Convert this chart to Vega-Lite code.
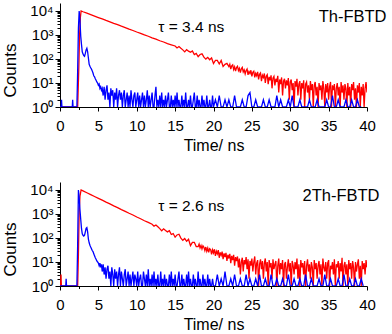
{
"$schema": "https://vega.github.io/schema/vega-lite/v6.json",
"padding": {"left": 0, "top": 3, "right": 1, "bottom": 0},
"spacing": 29,
"config": {
 "view": {"stroke": null},
 "font": "Liberation Sans",
 "axis": {"domainColor": "black", "tickColor": "black", "labelColor": "black", "titleColor": "black", "labelFont": "Liberation Sans", "titleFont": "Liberation Sans", "labelFontSize": 15, "titleFontSize": 16, "titleFontWeight": "normal", "grid": false, "labelOverlap": false, "labelBound": false, "domainWidth": 1, "tickWidth": 1}
},
"datasets": {
 "tr": [{"t":0,"c":1},{"t":0.5,"c":1},{"t":1,"c":1},{"t":1.5,"c":1},{"t":2,"c":1},{"t":2.3,"c":1},{"t":2.45,"c":40},{"t":2.55,"c":900},{"t":2.65,"c":5200},{"t":2.75,"c":10000},{"t":3,"c":9300},{"t":3.5,"c":8130},{"t":4,"c":7050},{"t":4.5,"c":6160},{"t":5,"c":5340},{"t":5.5,"c":4670},{"t":6,"c":4040},{"t":6.5,"c":3540},{"t":7,"c":3060},{"t":7.5,"c":2680},{"t":8,"c":2320},{"t":8.5,"c":2030},{"t":9,"c":1755},{"t":9.5,"c":1540},{"t":10,"c":1330},{"t":10.5,"c":1168},{"t":11,"c":1005},{"t":11.5,"c":886},{"t":12,"c":760},{"t":12.5,"c":672},{"t":13,"c":575},{"t":13.5,"c":510},{"t":14,"c":433},{"t":14.5,"c":388},{"t":15,"c":349},{"t":15.25,"c":287},{"t":15.5,"c":329},{"t":15.75,"c":280},{"t":16,"c":240},{"t":16.25,"c":198},{"t":16.5,"c":245},{"t":16.75,"c":212},{"t":17,"c":190},{"t":17.25,"c":216},{"t":17.5,"c":153},{"t":17.75,"c":170},{"t":18,"c":124},{"t":18.25,"c":154},{"t":18.5,"c":165},{"t":18.75,"c":119},{"t":19,"c":99},{"t":19.25,"c":117},{"t":19.5,"c":93},{"t":19.75,"c":110},{"t":20,"c":65},{"t":20.25,"c":87},{"t":20.5,"c":87},{"t":20.75,"c":62},{"t":21,"c":87},{"t":21.25,"c":49},{"t":21.5,"c":60},{"t":21.75,"c":66},{"t":22,"c":48},{"t":22.125,"c":60},{"t":22.25,"c":38},{"t":22.375,"c":52},{"t":22.5,"c":57},{"t":22.625,"c":36},{"t":22.75,"c":47},{"t":22.875,"c":31},{"t":23,"c":44},{"t":23.125,"c":50},{"t":23.25,"c":33},{"t":23.375,"c":41},{"t":23.5,"c":27},{"t":23.625,"c":39},{"t":23.75,"c":45},{"t":23.875,"c":29},{"t":24,"c":35},{"t":24.125,"c":24},{"t":24.25,"c":33},{"t":24.375,"c":38},{"t":24.5,"c":22},{"t":24.625,"c":30},{"t":24.75,"c":25},{"t":24.875,"c":34},{"t":25,"c":19},{"t":25.125,"c":28},{"t":25.25,"c":31},{"t":25.375,"c":17},{"t":25.5,"c":25},{"t":25.625,"c":20},{"t":25.75,"c":29},{"t":25.875,"c":14},{"t":26,"c":23},{"t":26.125,"c":26},{"t":26.25,"c":12},{"t":26.375,"c":21},{"t":26.5,"c":17},{"t":26.625,"c":25},{"t":26.75,"c":10},{"t":26.875,"c":19},{"t":27,"c":22},{"t":27.125,"c":9},{"t":27.25,"c":18},{"t":27.375,"c":13},{"t":27.5,"c":21},{"t":27.625,"c":6},{"t":27.75,"c":16},{"t":27.875,"c":19},{"t":28,"c":8},{"t":28.125,"c":15},{"t":28.25,"c":11},{"t":28.375,"c":20},{"t":28.5,"c":4},{"t":28.625,"c":14},{"t":28.75,"c":9},{"t":28.875,"c":17},{"t":29,"c":3},{"t":29.125,"c":12},{"t":29.25,"c":15},{"t":29.375,"c":6},{"t":29.5,"c":13},{"t":29.625,"c":8},{"t":29.75,"c":16},{"t":29.875,"c":2},{"t":30,"c":11},{"t":30.125,"c":14},{"t":30.25,"c":5},{"t":30.375,"c":10},{"t":30.5,"c":1},{"t":30.625,"c":12},{"t":30.75,"c":7},{"t":30.875,"c":15},{"t":31,"c":3},{"t":31.125,"c":9},{"t":31.25,"c":12},{"t":31.375,"c":2},{"t":31.5,"c":10},{"t":31.625,"c":6},{"t":31.75,"c":13},{"t":31.875,"c":1},{"t":32,"c":9},{"t":32.125,"c":11},{"t":32.25,"c":4},{"t":32.375,"c":8},{"t":32.5,"c":2},{"t":32.625,"c":12},{"t":32.75,"c":5},{"t":32.875,"c":9},{"t":33,"c":1},{"t":33.125,"c":8},{"t":33.25,"c":11},{"t":33.375,"c":3},{"t":33.5,"c":7},{"t":33.625,"c":1},{"t":33.75,"c":10},{"t":33.875,"c":5},{"t":34,"c":8},{"t":34.125,"c":2},{"t":34.25,"c":12},{"t":34.375,"c":6},{"t":34.5,"c":1},{"t":34.625,"c":9},{"t":34.75,"c":4},{"t":34.875,"c":10},{"t":35,"c":2},{"t":35.125,"c":7},{"t":35.25,"c":11},{"t":35.375,"c":1},{"t":35.5,"c":8},{"t":35.625,"c":5},{"t":35.75,"c":9},{"t":35.875,"c":1},{"t":36,"c":6},{"t":36.125,"c":10},{"t":36.25,"c":3},{"t":36.375,"c":7},{"t":36.5,"c":1},{"t":36.625,"c":11},{"t":36.75,"c":4},{"t":36.875,"c":8},{"t":37,"c":2},{"t":37.125,"c":9},{"t":37.25,"c":6},{"t":37.375,"c":1},{"t":37.5,"c":10},{"t":37.625,"c":3},{"t":37.75,"c":7},{"t":37.875,"c":1},{"t":38,"c":9},{"t":38.125,"c":5},{"t":38.25,"c":11},{"t":38.375,"c":2},{"t":38.5,"c":6},{"t":38.625,"c":1},{"t":38.75,"c":8},{"t":38.875,"c":4},{"t":39,"c":10},{"t":39.125,"c":1},{"t":39.25,"c":7},{"t":39.375,"c":3},{"t":39.5,"c":9},{"t":39.625,"c":1},{"t":39.75,"c":6},{"t":39.875,"c":11},{"t":40,"c":4}],
 "tb": [{"t":0,"c":1},{"t":0.15,"c":1},{"t":0.2,"c":2},{"t":0.25,"c":1},{"t":1,"c":1},{"t":1.6,"c":1},{"t":1.65,"c":2},{"t":1.7,"c":1},{"t":2.2,"c":1},{"t":2.3,"c":30},{"t":2.4,"c":2000},{"t":2.5,"c":10000},{"t":2.6,"c":4000},{"t":2.7,"c":900},{"t":2.8,"c":400},{"t":2.9,"c":200},{"t":3,"c":160},{"t":3.1,"c":140},{"t":3.2,"c":130},{"t":3.3,"c":170},{"t":3.4,"c":240},{"t":3.5,"c":280},{"t":3.6,"c":200},{"t":3.7,"c":110},{"t":3.8,"c":60},{"t":3.9,"c":50},{"t":4,"c":43},{"t":4.1,"c":38},{"t":4.2,"c":32},{"t":4.3,"c":26},{"t":4.4,"c":20},{"t":4.5,"c":18},{"t":4.6,"c":15},{"t":4.7,"c":13},{"t":4.8,"c":11},{"t":4.9,"c":10},{"t":5,"c":8},{"t":5.1,"c":9},{"t":5.2,"c":6},{"t":5.3,"c":7},{"t":5.4,"c":5},{"t":5.5,"c":6},{"t":5.625,"c":3},{"t":5.75,"c":7},{"t":5.875,"c":2},{"t":6,"c":5},{"t":6.125,"c":8},{"t":6.25,"c":2},{"t":6.375,"c":4},{"t":6.5,"c":1},{"t":6.625,"c":6},{"t":6.75,"c":3},{"t":6.875,"c":5},{"t":7,"c":1},{"t":7.125,"c":4},{"t":7.25,"c":2},{"t":7.375,"c":6},{"t":7.5,"c":1},{"t":7.625,"c":3},{"t":7.75,"c":5},{"t":7.875,"c":2},{"t":8,"c":4},{"t":8.125,"c":1},{"t":8.25,"c":3},{"t":8.375,"c":5},{"t":8.5,"c":1},{"t":8.625,"c":2},{"t":8.75,"c":4},{"t":8.875,"c":1},{"t":9,"c":3},{"t":9.125,"c":1},{"t":9.25,"c":5},{"t":9.375,"c":2},{"t":9.5,"c":1},{"t":9.625,"c":3},{"t":9.75,"c":4},{"t":9.875,"c":1},{"t":10,"c":2},{"t":10.125,"c":4},{"t":10.25,"c":1},{"t":10.375,"c":3},{"t":10.5,"c":1},{"t":10.625,"c":2},{"t":10.75,"c":4},{"t":10.875,"c":1},{"t":11,"c":3},{"t":11.125,"c":1},{"t":11.25,"c":2},{"t":11.375,"c":5},{"t":11.5,"c":1},{"t":11.625,"c":3},{"t":11.75,"c":1},{"t":11.875,"c":2},{"t":12,"c":4},{"t":12.125,"c":1},{"t":12.25,"c":1},{"t":12.375,"c":3},{"t":12.5,"c":7},{"t":12.625,"c":1},{"t":12.75,"c":2},{"t":12.875,"c":1},{"t":13,"c":3},{"t":13.125,"c":1},{"t":13.25,"c":4},{"t":13.375,"c":1},{"t":13.5,"c":2},{"t":13.625,"c":1},{"t":13.75,"c":3},{"t":13.875,"c":1},{"t":14,"c":2},{"t":14.125,"c":4},{"t":14.25,"c":1},{"t":14.375,"c":1},{"t":14.5,"c":3},{"t":14.625,"c":1},{"t":14.75,"c":2},{"t":14.875,"c":1},{"t":15,"c":3},{"t":15.125,"c":1},{"t":15.25,"c":4},{"t":15.375,"c":1},{"t":15.5,"c":2},{"t":15.625,"c":1},{"t":15.75,"c":1},{"t":15.875,"c":3},{"t":16,"c":1},{"t":16.125,"c":2},{"t":16.25,"c":1},{"t":16.375,"c":4},{"t":16.5,"c":1},{"t":16.625,"c":1},{"t":16.75,"c":2},{"t":16.875,"c":1},{"t":17,"c":3},{"t":17.125,"c":1},{"t":17.25,"c":1},{"t":17.375,"c":2},{"t":17.5,"c":4},{"t":17.625,"c":1},{"t":17.75,"c":1},{"t":17.875,"c":3},{"t":18,"c":1},{"t":18.125,"c":2},{"t":18.25,"c":1},{"t":18.375,"c":1},{"t":18.5,"c":3},{"t":18.625,"c":1},{"t":18.75,"c":2},{"t":18.875,"c":1},{"t":19,"c":1},{"t":19.125,"c":3},{"t":19.25,"c":1},{"t":19.375,"c":1},{"t":19.5,"c":2},{"t":19.625,"c":1},{"t":19.75,"c":1},{"t":19.875,"c":3},{"t":20,"c":1},{"t":20.25,"c":2},{"t":20.5,"c":1},{"t":20.75,"c":3},{"t":21,"c":1},{"t":21.25,"c":1},{"t":21.5,"c":2},{"t":21.75,"c":1},{"t":22,"c":2},{"t":22.25,"c":1},{"t":22.5,"c":1},{"t":22.75,"c":3},{"t":23,"c":1},{"t":23.25,"c":1},{"t":23.5,"c":1},{"t":23.75,"c":2},{"t":24,"c":1},{"t":24.25,"c":1},{"t":24.5,"c":3},{"t":24.75,"c":4},{"t":25,"c":1},{"t":25.25,"c":1},{"t":25.5,"c":2},{"t":25.75,"c":1},{"t":26,"c":1},{"t":26.25,"c":1},{"t":26.5,"c":2},{"t":26.75,"c":1},{"t":27,"c":1},{"t":27.25,"c":2},{"t":27.5,"c":1},{"t":27.75,"c":1},{"t":28,"c":1},{"t":28.25,"c":3},{"t":28.5,"c":1},{"t":28.75,"c":2},{"t":29,"c":1},{"t":29.25,"c":1},{"t":29.5,"c":1},{"t":29.75,"c":2},{"t":30,"c":1},{"t":30.25,"c":3},{"t":30.5,"c":1},{"t":30.75,"c":1},{"t":31,"c":1},{"t":31.25,"c":2},{"t":31.5,"c":1},{"t":31.75,"c":1},{"t":32,"c":1},{"t":32.25,"c":1},{"t":32.5,"c":2},{"t":32.75,"c":1},{"t":33,"c":1},{"t":33.25,"c":1},{"t":33.5,"c":2},{"t":33.75,"c":1},{"t":34,"c":1},{"t":34.25,"c":1},{"t":34.5,"c":1},{"t":34.75,"c":2},{"t":35,"c":1},{"t":35.25,"c":1},{"t":35.5,"c":3},{"t":35.75,"c":1},{"t":36,"c":1},{"t":36.25,"c":2},{"t":36.5,"c":1},{"t":36.75,"c":1},{"t":37,"c":1},{"t":37.25,"c":2},{"t":37.5,"c":1},{"t":37.75,"c":1},{"t":38,"c":2},{"t":38.25,"c":1},{"t":38.5,"c":1},{"t":38.75,"c":2},{"t":39,"c":1},{"t":39.25,"c":1}],
 "br": [{"t":0,"c":1},{"t":0.08,"c":1},{"t":0.13,"c":3},{"t":0.18,"c":1},{"t":0.5,"c":1},{"t":1,"c":1},{"t":1.5,"c":1},{"t":2,"c":1},{"t":2.3,"c":1},{"t":2.4,"c":20},{"t":2.5,"c":1200},{"t":2.6,"c":5500},{"t":2.75,"c":10000},{"t":3,"c":9150},{"t":3.5,"c":7660},{"t":4,"c":6390},{"t":4.5,"c":5360},{"t":5,"c":4470},{"t":5.5,"c":3750},{"t":6,"c":3120},{"t":6.5,"c":2630},{"t":7,"c":2185},{"t":7.5,"c":1840},{"t":8,"c":1530},{"t":8.5,"c":1290},{"t":9,"c":1070},{"t":9.5,"c":905},{"t":10,"c":748},{"t":10.5,"c":635},{"t":11,"c":522},{"t":11.5,"c":446},{"t":12,"c":374},{"t":12.25,"c":312},{"t":12.5,"c":348},{"t":12.75,"c":292},{"t":13,"c":246},{"t":13.25,"c":199},{"t":13.5,"c":241},{"t":13.75,"c":205},{"t":14,"c":180},{"t":14.25,"c":202},{"t":14.5,"c":140},{"t":14.75,"c":153},{"t":15,"c":108},{"t":15.25,"c":134},{"t":15.5,"c":143},{"t":15.75,"c":99},{"t":16,"c":80},{"t":16.25,"c":95},{"t":16.5,"c":73},{"t":16.75,"c":88},{"t":17,"c":48},{"t":17.25,"c":66},{"t":17.5,"c":66},{"t":17.75,"c":44},{"t":18,"c":44},{"t":18.125,"c":56},{"t":18.25,"c":39},{"t":18.375,"c":49},{"t":18.5,"c":35},{"t":18.625,"c":47},{"t":18.75,"c":41},{"t":18.875,"c":30},{"t":19,"c":42},{"t":19.125,"c":28},{"t":19.25,"c":38},{"t":19.375,"c":25},{"t":19.5,"c":36},{"t":19.625,"c":33},{"t":19.75,"c":21},{"t":19.875,"c":32},{"t":20,"c":24},{"t":20.125,"c":34},{"t":20.25,"c":18},{"t":20.375,"c":28},{"t":20.5,"c":22},{"t":20.625,"c":31},{"t":20.75,"c":15},{"t":20.875,"c":25},{"t":21,"c":19},{"t":21.125,"c":27},{"t":21.25,"c":13},{"t":21.375,"c":23},{"t":21.5,"c":16},{"t":21.625,"c":24},{"t":21.75,"c":11},{"t":21.875,"c":20},{"t":22,"c":14},{"t":22.125,"c":22},{"t":22.25,"c":9},{"t":22.375,"c":18},{"t":22.5,"c":12},{"t":22.625,"c":20},{"t":22.75,"c":7},{"t":22.875,"c":16},{"t":23,"c":11},{"t":23.125,"c":17},{"t":23.25,"c":6},{"t":23.375,"c":14},{"t":23.5,"c":3},{"t":23.625,"c":10},{"t":23.75,"c":15},{"t":23.875,"c":4},{"t":24,"c":12},{"t":24.125,"c":8},{"t":24.25,"c":16},{"t":24.375,"c":5},{"t":24.5,"c":13},{"t":24.625,"c":2},{"t":24.75,"c":11},{"t":24.875,"c":7},{"t":25,"c":14},{"t":25.125,"c":4},{"t":25.25,"c":10},{"t":25.375,"c":17},{"t":25.5,"c":3},{"t":25.625,"c":9},{"t":25.75,"c":12},{"t":25.875,"c":1},{"t":26,"c":8},{"t":26.125,"c":13},{"t":26.25,"c":5},{"t":26.375,"c":11},{"t":26.5,"c":2},{"t":26.625,"c":9},{"t":26.75,"c":14},{"t":26.875,"c":4},{"t":27,"c":10},{"t":27.125,"c":1},{"t":27.25,"c":12},{"t":27.375,"c":6},{"t":27.5,"c":9},{"t":27.625,"c":2},{"t":27.75,"c":13},{"t":27.875,"c":5},{"t":28,"c":8},{"t":28.125,"c":11},{"t":28.25,"c":1},{"t":28.375,"c":7},{"t":28.5,"c":14},{"t":28.625,"c":3},{"t":28.75,"c":9},{"t":28.875,"c":5},{"t":29,"c":12},{"t":29.125,"c":1},{"t":29.25,"c":8},{"t":29.375,"c":10},{"t":29.5,"c":2},{"t":29.625,"c":6},{"t":29.75,"c":13},{"t":29.875,"c":4},{"t":30,"c":9},{"t":30.125,"c":1},{"t":30.25,"c":11},{"t":30.375,"c":7},{"t":30.5,"c":3},{"t":30.625,"c":10},{"t":30.75,"c":5},{"t":30.875,"c":14},{"t":31,"c":2},{"t":31.125,"c":8},{"t":31.25,"c":1},{"t":31.375,"c":12},{"t":31.5,"c":6},{"t":31.625,"c":9},{"t":31.75,"c":3},{"t":31.875,"c":11},{"t":32,"c":1},{"t":32.125,"c":7},{"t":32.25,"c":13},{"t":32.375,"c":4},{"t":32.5,"c":8},{"t":32.625,"c":2},{"t":32.75,"c":10},{"t":32.875,"c":6},{"t":33,"c":1},{"t":33.125,"c":12},{"t":33.25,"c":5},{"t":33.375,"c":9},{"t":33.5,"c":2},{"t":33.625,"c":7},{"t":33.75,"c":11},{"t":33.875,"c":3},{"t":34,"c":8},{"t":34.125,"c":1},{"t":34.25,"c":14},{"t":34.375,"c":6},{"t":34.5,"c":4},{"t":34.625,"c":10},{"t":34.75,"c":2},{"t":34.875,"c":9},{"t":35,"c":12},{"t":35.125,"c":1},{"t":35.25,"c":7},{"t":35.375,"c":5},{"t":35.5,"c":10},{"t":35.625,"c":3},{"t":35.75,"c":13},{"t":35.875,"c":1},{"t":36,"c":8},{"t":36.125,"c":6},{"t":36.25,"c":11},{"t":36.375,"c":2},{"t":36.5,"c":9},{"t":36.625,"c":4},{"t":36.75,"c":15},{"t":36.875,"c":1},{"t":37,"c":7},{"t":37.125,"c":10},{"t":37.25,"c":3},{"t":37.375,"c":8},{"t":37.5,"c":1},{"t":37.625,"c":12},{"t":37.75,"c":5},{"t":37.875,"c":9},{"t":38,"c":2},{"t":38.125,"c":11},{"t":38.25,"c":6},{"t":38.375,"c":1},{"t":38.5,"c":10},{"t":38.625,"c":4},{"t":38.75,"c":8},{"t":38.875,"c":13},{"t":39,"c":2},{"t":39.125,"c":7},{"t":39.25,"c":1},{"t":39.375,"c":11},{"t":39.5,"c":5},{"t":39.625,"c":9},{"t":39.75,"c":3},{"t":39.875,"c":12},{"t":40,"c":6}],
 "bb": [{"t":0,"c":1},{"t":0.75,"c":1},{"t":0.8,"c":2},{"t":0.85,"c":1},{"t":2.2,"c":1},{"t":2.3,"c":50},{"t":2.4,"c":10000},{"t":2.5,"c":5000},{"t":2.6,"c":1500},{"t":2.7,"c":600},{"t":2.8,"c":250},{"t":2.9,"c":150},{"t":3,"c":130},{"t":3.1,"c":120},{"t":3.2,"c":130},{"t":3.3,"c":180},{"t":3.4,"c":250},{"t":3.5,"c":270},{"t":3.6,"c":180},{"t":3.7,"c":90},{"t":3.8,"c":63},{"t":3.9,"c":50},{"t":4,"c":42},{"t":4.1,"c":36},{"t":4.2,"c":30},{"t":4.3,"c":27},{"t":4.4,"c":22},{"t":4.5,"c":18},{"t":4.6,"c":15},{"t":4.7,"c":13},{"t":4.8,"c":11},{"t":4.9,"c":10},{"t":5,"c":9},{"t":5.1,"c":7},{"t":5.2,"c":9},{"t":5.3,"c":6},{"t":5.4,"c":8},{"t":5.5,"c":4},{"t":5.625,"c":8},{"t":5.75,"c":3},{"t":5.875,"c":6},{"t":6,"c":2},{"t":6.125,"c":5},{"t":6.25,"c":7},{"t":6.375,"c":2},{"t":6.5,"c":4},{"t":6.625,"c":1},{"t":6.75,"c":6},{"t":6.875,"c":3},{"t":7,"c":1},{"t":7.125,"c":5},{"t":7.25,"c":2},{"t":7.375,"c":4},{"t":7.5,"c":1},{"t":7.625,"c":3},{"t":7.75,"c":6},{"t":7.875,"c":1},{"t":8,"c":4},{"t":8.125,"c":2},{"t":8.25,"c":1},{"t":8.375,"c":3},{"t":8.5,"c":5},{"t":8.625,"c":1},{"t":8.75,"c":2},{"t":8.875,"c":4},{"t":9,"c":1},{"t":9.125,"c":3},{"t":9.25,"c":1},{"t":9.375,"c":2},{"t":9.5,"c":4},{"t":9.625,"c":1},{"t":9.75,"c":3},{"t":9.875,"c":2},{"t":10,"c":1},{"t":10.125,"c":4},{"t":10.25,"c":1},{"t":10.375,"c":2},{"t":10.5,"c":3},{"t":10.625,"c":1},{"t":10.75,"c":1},{"t":10.875,"c":4},{"t":11,"c":2},{"t":11.125,"c":1},{"t":11.25,"c":3},{"t":11.375,"c":1},{"t":11.5,"c":5},{"t":11.625,"c":1},{"t":11.75,"c":2},{"t":11.875,"c":1},{"t":12,"c":3},{"t":12.125,"c":1},{"t":12.25,"c":4},{"t":12.375,"c":1},{"t":12.5,"c":2},{"t":12.625,"c":1},{"t":12.75,"c":3},{"t":12.875,"c":1},{"t":13,"c":1},{"t":13.125,"c":4},{"t":13.25,"c":1},{"t":13.375,"c":2},{"t":13.5,"c":1},{"t":13.625,"c":3},{"t":13.75,"c":1},{"t":13.875,"c":2},{"t":14,"c":1},{"t":14.125,"c":1},{"t":14.25,"c":3},{"t":14.375,"c":1},{"t":14.5,"c":4},{"t":14.625,"c":1},{"t":14.75,"c":2},{"t":14.875,"c":1},{"t":15,"c":3},{"t":15.125,"c":1},{"t":15.25,"c":1},{"t":15.375,"c":2},{"t":15.5,"c":4},{"t":15.625,"c":1},{"t":15.75,"c":1},{"t":15.875,"c":3},{"t":16,"c":1},{"t":16.125,"c":2},{"t":16.25,"c":1},{"t":16.375,"c":1},{"t":16.5,"c":3},{"t":16.625,"c":1},{"t":16.75,"c":4},{"t":16.875,"c":1},{"t":17,"c":2},{"t":17.125,"c":1},{"t":17.25,"c":1},{"t":17.375,"c":3},{"t":17.5,"c":1},{"t":17.625,"c":2},{"t":17.75,"c":1},{"t":17.875,"c":1},{"t":18,"c":4},{"t":18.125,"c":1},{"t":18.25,"c":2},{"t":18.375,"c":1},{"t":18.5,"c":1},{"t":18.625,"c":3},{"t":18.75,"c":1},{"t":18.875,"c":2},{"t":19,"c":1},{"t":19.125,"c":1},{"t":19.25,"c":3},{"t":19.375,"c":1},{"t":19.5,"c":2},{"t":19.625,"c":1},{"t":19.75,"c":1},{"t":19.875,"c":2},{"t":20,"c":1},{"t":20.25,"c":1},{"t":20.5,"c":3},{"t":20.75,"c":1},{"t":21,"c":2},{"t":21.25,"c":1},{"t":21.5,"c":4},{"t":21.75,"c":1},{"t":22,"c":1},{"t":22.25,"c":2},{"t":22.5,"c":1},{"t":22.75,"c":3},{"t":23,"c":1},{"t":23.25,"c":1},{"t":23.5,"c":2},{"t":23.75,"c":1},{"t":24,"c":1},{"t":24.25,"c":3},{"t":24.5,"c":1},{"t":24.75,"c":2},{"t":25,"c":1},{"t":25.25,"c":1},{"t":25.5,"c":2},{"t":25.75,"c":1},{"t":26,"c":3},{"t":26.25,"c":1},{"t":26.5,"c":1},{"t":26.75,"c":2},{"t":27,"c":1},{"t":27.25,"c":1},{"t":27.5,"c":3},{"t":27.75,"c":1},{"t":28,"c":1},{"t":28.25,"c":2},{"t":28.5,"c":1},{"t":28.75,"c":1},{"t":29,"c":2},{"t":29.25,"c":1},{"t":29.5,"c":1},{"t":29.75,"c":3},{"t":30,"c":1},{"t":30.25,"c":1},{"t":30.5,"c":2},{"t":30.75,"c":1},{"t":31,"c":1},{"t":31.25,"c":2},{"t":31.5,"c":1},{"t":31.75,"c":1},{"t":32,"c":3},{"t":32.25,"c":1},{"t":32.5,"c":1},{"t":32.75,"c":2},{"t":33,"c":1},{"t":33.25,"c":1},{"t":33.5,"c":1},{"t":33.75,"c":2},{"t":34,"c":1},{"t":34.25,"c":1},{"t":34.5,"c":3},{"t":34.75,"c":1},{"t":35,"c":1},{"t":35.25,"c":2},{"t":35.5,"c":1},{"t":35.75,"c":1},{"t":36,"c":1},{"t":36.25,"c":2},{"t":36.5,"c":1},{"t":36.75,"c":1},{"t":37,"c":3},{"t":37.25,"c":1},{"t":37.5,"c":1},{"t":37.75,"c":2},{"t":38,"c":1},{"t":38.25,"c":1},{"t":38.5,"c":2},{"t":38.75,"c":1},{"t":39,"c":1},{"t":39.25,"c":2},{"t":39.5,"c":1}]
},
"vconcat": [
 {
  "width": 307, "height": 104,
  "resolve": {"axis": {"x": "independent"}},
  "layer": [
   {"data": {"name": "tr"}, "mark": {"type": "line", "color": "#ff0000", "strokeWidth": 1.3, "clip": true},
    "encoding": {
     "x": {"field": "t", "type": "quantitative", "scale": {"domain": [0, 40], "nice": false, "zero": false},
      "axis": {"values": [0,5,10,15,20,25,30,35,40], "format": "d", "tickSize": 4, "labelPadding": 7, "labelFlush": false, "labelOverlap": false, "title": "Time/ ns", "titlePadding": 4, "orient": "bottom"}},
     "y": {"field": "c", "type": "quantitative", "scale": {"type": "log", "domain": [1, 21500], "nice": false},
      "axis": {"values": [1,2,3,4,5,6,7,8,9,10,20,30,40,50,60,70,80,90,100,200,300,400,500,600,700,800,900,1000,2000,3000,4000,5000,6000,7000,8000,9000,10000], "labelExpr": "datum.value === 1 ? '10⁰' : datum.value === 10 ? '10¹' : datum.value === 100 ? '10²' : datum.value === 1000 ? '10³' : datum.value === 10000 ? '10⁴' : ''", "tickSize": {"condition": {"test": "indexof([1,10,100,1000,10000], datum.value) >= 0", "value": 5}, "value": 3}, "labelPadding": 2, "labelOverlap": false, "title": "Counts", "titleFontSize": 17, "titleX": -50, "titleY": 67, "titleBaseline": "middle"}}
    }},
   {"data": {"name": "tb"}, "mark": {"type": "line", "color": "#0000ff", "strokeWidth": 1.3, "clip": true},
    "encoding": {"x": {"field": "t", "type": "quantitative", "axis": {"values": [2.5,7.5,12.5,17.5,22.5,27.5,32.5,37.5], "labels": false, "domain": false, "tickSize": 2.5, "title": null, "orient": "bottom"}}, "y": {"field": "c", "type": "quantitative"}}},
   {"data": {"values": [{"t": 12.8, "c": 2150, "label": "τ = 3.4 ns"}]},
    "mark": {"type": "text", "align": "left", "baseline": "middle", "fontSize": 15.5, "font": "Liberation Sans", "color": "black"},
    "encoding": {"x": {"field": "t", "type": "quantitative", "axis": null}, "y": {"field": "c", "type": "quantitative"}, "text": {"field": "label"}}},
   {"data": {"values": [{"t": 33.7, "c": 5400, "label": "Th-FBTD"}]},
    "mark": {"type": "text", "align": "left", "baseline": "middle", "fontSize": 16.5, "font": "Liberation Sans", "color": "black"},
    "encoding": {"x": {"field": "t", "type": "quantitative", "axis": null}, "y": {"field": "c", "type": "quantitative"}, "text": {"field": "label"}}}
  ]
 },
 {
  "width": 307, "height": 104,
  "resolve": {"axis": {"x": "independent"}},
  "layer": [
   {"data": {"name": "br"}, "mark": {"type": "line", "color": "#ff0000", "strokeWidth": 1.3, "clip": true},
    "encoding": {
     "x": {"field": "t", "type": "quantitative", "scale": {"domain": [0, 40], "nice": false, "zero": false},
      "axis": {"values": [0,5,10,15,20,25,30,35,40], "format": "d", "tickSize": 4, "labelPadding": 7, "labelFlush": false, "labelOverlap": false, "title": "Time/ ns", "titlePadding": 4, "orient": "bottom"}},
     "y": {"field": "c", "type": "quantitative", "scale": {"type": "log", "domain": [1, 21500], "nice": false},
      "axis": {"values": [1,2,3,4,5,6,7,8,9,10,20,30,40,50,60,70,80,90,100,200,300,400,500,600,700,800,900,1000,2000,3000,4000,5000,6000,7000,8000,9000,10000], "labelExpr": "datum.value === 1 ? '10⁰' : datum.value === 10 ? '10¹' : datum.value === 100 ? '10²' : datum.value === 1000 ? '10³' : datum.value === 10000 ? '10⁴' : ''", "tickSize": {"condition": {"test": "indexof([1,10,100,1000,10000], datum.value) >= 0", "value": 5}, "value": 3}, "labelPadding": 2, "labelOverlap": false, "title": "Counts", "titleFontSize": 17, "titleX": -50, "titleY": 67, "titleBaseline": "middle"}}
    }},
   {"data": {"name": "bb"}, "mark": {"type": "line", "color": "#0000ff", "strokeWidth": 1.3, "clip": true},
    "encoding": {"x": {"field": "t", "type": "quantitative", "axis": {"values": [2.5,7.5,12.5,17.5,22.5,27.5,32.5,37.5], "labels": false, "domain": false, "tickSize": 2.5, "title": null, "orient": "bottom"}}, "y": {"field": "c", "type": "quantitative"}}},
   {"data": {"values": [{"t": 12.8, "c": 2150, "label": "τ = 2.6 ns"}]},
    "mark": {"type": "text", "align": "left", "baseline": "middle", "fontSize": 15.5, "font": "Liberation Sans", "color": "black"},
    "encoding": {"x": {"field": "t", "type": "quantitative", "axis": null}, "y": {"field": "c", "type": "quantitative"}, "text": {"field": "label"}}},
   {"data": {"values": [{"t": 31.6, "c": 5600, "label": "2Th-FBTD"}]},
    "mark": {"type": "text", "align": "left", "baseline": "middle", "fontSize": 16.5, "font": "Liberation Sans", "color": "black"},
    "encoding": {"x": {"field": "t", "type": "quantitative", "axis": null}, "y": {"field": "c", "type": "quantitative"}, "text": {"field": "label"}}}
  ]
 }
]
}
